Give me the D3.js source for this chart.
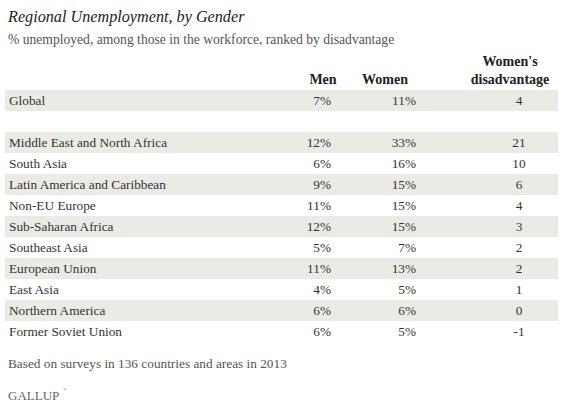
<!DOCTYPE html>
<html><head><meta charset="utf-8">
<script src="https://cdn.jsdelivr.net/npm/d3@7"></script>
<style>body{margin:0;background:#fff;} text{font-family:"Liberation Serif",serif;fill:#333;}</style>
</head><body><svg id="c" width="564" height="409"></svg>
<script>
// table data
const regions = ["Global", "", "Middle East and North Africa", "South Asia", "Latin America and Caribbean",
  "Non-EU Europe", "Sub-Saharan Africa", "Southeast Asia", "European Union", "East Asia",
  "Northern America", "Former Soviet Union"];
const men = [7, null, 12, 6, 9, 11, 12, 5, 11, 4, 6, 6];
const women = [11, null, 33, 16, 15, 15, 15, 7, 13, 5, 6, 5];
const disadvantage = [4, null, 21, 10, 6, 4, 3, 2, 2, 1, 0, -1];

const fs = "13.3px";
const svg = d3.select("#c");
svg.append("text").attr("x", 8).attr("y", 22).style("font-size", "16.2px").style("font-style", "italic")
  .style("fill", "#222").text("Regional Unemployment, by Gender");
svg.append("text").attr("x", 8).attr("y", 44).style("font-size", "13.6px").style("fill", "#555")
  .text("% unemployed, among those in the workforce, ranked by disadvantage");

const y = d3.scaleBand().domain(d3.range(regions.length)).range([90, 342]);
const shaded = i => i === 0 || (i >= 2 && i % 2 === 0);

const rows = svg.selectAll("g.row").data(regions).join("g").attr("class", "row")
  .attr("transform", (d, i) => `translate(0,${y(i)})`);
rows.append("rect").attr("x", 5).attr("width", 553).attr("height", y.bandwidth())
  .attr("fill", (d, i) => shaded(i) ? "#ebebe6" : "#fff");
const ty = y.bandwidth() / 2 + 4.5;
rows.append("text").attr("x", 9).attr("y", ty).style("font-size", fs).text(d => d);
rows.append("text").attr("x", 331).attr("y", ty).attr("text-anchor", "end").style("font-size", fs)
  .text((d, i) => men[i] == null ? "" : men[i] + "%");
rows.append("text").attr("x", 416).attr("y", ty).attr("text-anchor", "end").style("font-size", fs)
  .text((d, i) => women[i] == null ? "" : women[i] + "%");
rows.append("text").attr("x", 519).attr("y", ty).attr("text-anchor", "middle").style("font-size", fs)
  .text((d, i) => disadvantage[i] == null ? "" : disadvantage[i]);

const hdr = svg.append("g").style("font-weight", "bold").style("font-size", "14px");
hdr.append("text").attr("x", 323).attr("y", 84).attr("text-anchor", "middle").style("fill", "#222").text("Men");
hdr.append("text").attr("x", 385).attr("y", 84).attr("text-anchor", "middle").style("fill", "#222").text("Women");
hdr.append("text").attr("x", 510).attr("y", 66).attr("text-anchor", "middle").style("fill", "#222").text("Women's");
hdr.append("text").attr("x", 510).attr("y", 84).attr("text-anchor", "middle").style("fill", "#222").text("disadvantage");

svg.append("text").attr("x", 8).attr("y", 368).style("font-size", "13.3px").style("fill", "#555")
  .text("Based on surveys in 136 countries and areas in 2013");
svg.append("text").attr("x", 8).attr("y", 400).style("font-size", "13px").style("fill", "#666")
  .text("GALLUP");
svg.append("text").attr("x", 63).attr("y", 391).style("font-size", "5px").style("fill", "#666").text("®");
</script></body></html>
